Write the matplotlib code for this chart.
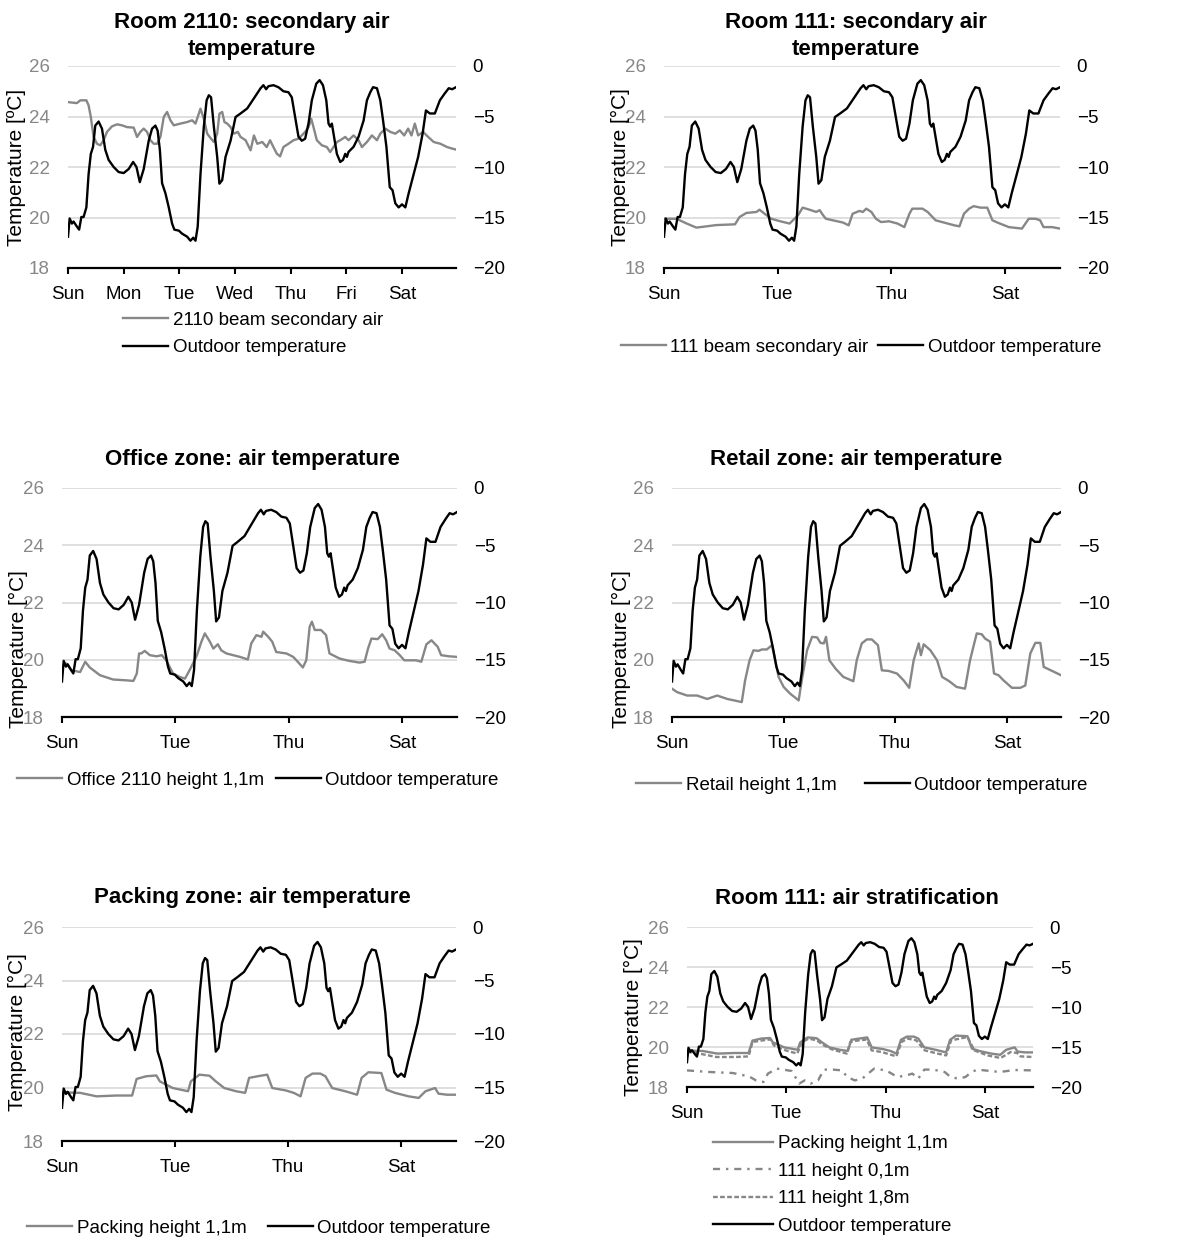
import numpy as np
import matplotlib.pyplot as plt

plt.rcParams['font.family'] = ['Liberation Sans', 'DejaVu Sans']

# figure size in pixels
W, H = 1179, 1242

# ------------------------------
# data (x in days from Sunday 00:00)
# ------------------------------

# outdoor temperature, right axis
out_day = [0, 0.03, 0.07, 0.1, 0.16, 0.2, 0.24, 0.28, 0.33, 0.37, 0.41, 0.45, 0.49, 0.55,
           0.61, 0.67, 0.73, 0.82, 0.91, 1.0, 1.09, 1.17, 1.23, 1.29, 1.36, 1.45, 1.51,
           1.57, 1.61, 1.65, 1.69, 1.75, 1.81, 1.87, 1.91, 1.99, 2.05, 2.14, 2.2, 2.25,
           2.29, 2.33, 2.38, 2.44, 2.49, 2.53, 2.57, 2.62, 2.68, 2.72, 2.77, 2.83, 2.92,
           3.01, 3.1, 3.22, 3.34, 3.46, 3.51, 3.56, 3.6, 3.69, 3.78, 3.87, 3.96, 4.02,
           4.08, 4.14, 4.2, 4.26, 4.32, 4.38, 4.46, 4.52, 4.58, 4.64, 4.68, 4.71, 4.74,
           4.77, 4.83, 4.89, 4.94, 4.98, 5.01, 5.04, 5.13, 5.22, 5.31, 5.37, 5.43, 5.48,
           5.55, 5.61, 5.66, 5.72, 5.78, 5.83, 5.88, 5.94, 6.0, 6.06, 6.12, 6.21, 6.29,
           6.37, 6.43, 6.5, 6.59, 6.68, 6.77, 6.84, 6.9, 6.97]
out_temp = [-16.9, -15.1, -15.6, -15.4, -15.9, -16.2, -14.95, -14.95, -14.0, -10.7, -8.7,
            -8.0, -5.9, -5.5, -6.2, -8.3, -9.3, -10.0, -10.5, -10.6, -10.2, -9.5, -10.0,
            -11.5, -10.2, -7.4, -6.2, -5.9, -6.4, -8.3, -11.6, -12.6, -14.0, -15.6, -16.2,
            -16.3, -16.6, -16.9, -17.3, -17.0, -17.3, -15.9, -10.7, -6.0, -3.4, -2.9, -3.1,
            -6.0, -9.0, -11.65, -11.3, -9.0, -7.4, -5.05, -4.7, -4.2, -3.2, -2.2, -1.9,
            -2.3, -2.0, -1.9, -2.1, -2.5, -2.6, -3.1, -5.05, -7.0, -7.4, -7.2, -5.7, -3.4,
            -1.75, -1.4, -1.9, -3.4, -5.7, -6.0, -5.7, -6.7, -8.7, -9.5, -9.3, -8.7, -9.0,
            -8.5, -8.0, -7.0, -5.4, -3.4, -2.6, -2.1, -2.2, -3.4, -5.4, -8.0, -12.0, -12.3,
            -13.6, -14.0, -13.7, -14.0, -12.6, -10.7, -9.0, -6.7, -4.4, -4.7, -4.7, -3.4,
            -2.7, -2.2, -2.3, -2.1]

# room 2110 beam secondary air
b2110_day = [0, 0.16, 0.22, 0.33, 0.37, 0.41, 0.46, 0.52, 0.58, 0.64, 0.70, 0.79, 0.88,
             0.97, 1.06, 1.18, 1.24, 1.30, 1.36, 1.42, 1.48, 1.54, 1.60, 1.66, 1.72, 1.78,
             1.84, 1.90, 2.02, 2.14, 2.23, 2.29, 2.38, 2.44, 2.50, 2.57, 2.62, 2.68, 2.72,
             2.77, 2.81, 2.86, 2.92, 2.98, 3.05, 3.10, 3.19, 3.28, 3.34, 3.40, 3.49, 3.57,
             3.63, 3.69, 3.75, 3.81, 3.87, 3.96, 4.05, 4.14, 4.20, 4.26, 4.32, 4.37, 4.41,
             4.47, 4.56, 4.65, 4.71, 4.77, 4.83, 4.89, 4.98, 5.04, 5.13, 5.22, 5.28, 5.37,
             5.46, 5.55, 5.61, 5.70, 5.79, 5.88, 5.96, 6.04, 6.11, 6.17, 6.23, 6.29, 6.38,
             6.47, 6.57, 6.69, 6.81, 6.90, 6.97]
b2110_temp = [24.57, 24.53, 24.64, 24.64, 24.44, 23.98, 23.19, 22.92, 22.86, 23.06, 23.39,
              23.61, 23.69, 23.65, 23.58, 23.56, 23.19, 23.39, 23.52, 23.39, 23.06, 22.92,
              22.92, 23.19, 23.98, 24.18, 23.85, 23.65, 23.72, 23.78, 23.85, 23.72, 24.31,
              23.91, 23.32, 23.12, 22.99, 23.32, 24.11, 24.18, 23.78, 23.72, 23.58, 23.32,
              23.39, 23.19, 23.06, 22.66, 23.25, 22.92, 22.99, 22.79, 23.06, 22.79, 22.53,
              22.42, 22.79, 22.92, 23.06, 23.12, 23.25, 23.39, 23.58, 23.91, 23.58, 23.06,
              22.86, 22.79, 22.59, 22.79, 22.99, 23.06, 23.19, 23.06, 23.25, 23.06, 22.79,
              22.99, 23.25, 23.06, 23.32, 23.52, 23.39, 23.32, 23.45, 23.25, 23.52, 23.25,
              23.72, 23.25, 23.39, 23.19, 22.99, 22.92, 22.79, 22.73, 22.69]

# room 111 beam secondary air
b111_day = [0, 0.22, 0.40, 0.57, 0.75, 0.92, 1.25, 1.33, 1.45, 1.63, 1.68, 1.77, 1.89,
            2.03, 2.21, 2.27, 2.36, 2.44, 2.56, 2.68, 2.74, 2.80, 2.85, 2.97, 3.15, 3.25,
            3.32, 3.44, 3.50, 3.56, 3.65, 3.73, 3.82, 3.96, 4.11, 4.23, 4.32, 4.37, 4.55,
            4.64, 4.78, 4.96, 5.11, 5.20, 5.28, 5.37, 5.45, 5.57, 5.69, 5.78, 5.89, 6.07,
            6.30, 6.42, 6.54, 6.62, 6.68, 6.83, 6.97]
b111_temp = [19.95, 19.95, 19.76, 19.6, 19.65, 19.7, 19.73, 20.02, 20.18, 20.22, 20.31,
             20.15, 19.95, 19.86, 19.76, 19.89, 20.09, 20.39, 20.31, 20.22, 20.29, 20.09,
             19.95, 19.89, 19.8, 19.69, 20.15, 20.26, 20.22, 20.35, 20.22, 19.95, 19.82,
             19.85, 19.76, 19.62, 20.15, 20.35, 20.35, 20.22, 19.89, 19.78, 19.69, 19.65,
             20.15, 20.35, 20.45, 20.39, 20.39, 19.89, 19.78, 19.62, 19.56, 19.95, 19.95,
             19.89, 19.62, 19.62, 19.56]

# office 2110 height 1,1m
office_day = [0, 0.08, 0.17, 0.32, 0.41, 0.49, 0.67, 0.90, 1.14, 1.26, 1.32, 1.36, 1.40,
              1.46, 1.55, 1.67, 1.76, 1.84, 1.96, 2.08, 2.17, 2.25, 2.37, 2.46, 2.52, 2.61,
              2.67, 2.75, 2.81, 2.90, 3.02, 3.14, 3.28, 3.34, 3.43, 3.52, 3.55, 3.64, 3.71,
              3.78, 3.96, 4.08, 4.16, 4.25, 4.31, 4.37, 4.41, 4.46, 4.57, 4.66, 4.72, 4.90,
              5.07, 5.25, 5.34, 5.40, 5.46, 5.57, 5.65, 5.72, 5.78, 5.87, 5.96, 6.04, 6.25,
              6.34, 6.43, 6.52, 6.63, 6.69, 6.83, 6.97]
office_temp = [19.75, 19.87, 19.63, 19.57, 19.93, 19.73, 19.46, 19.31, 19.28, 19.26, 19.52,
               20.22, 20.22, 20.31, 20.16, 20.12, 20.16, 19.98, 19.52, 19.40, 19.34, 19.63,
               20.1, 20.63, 20.92, 20.63, 20.39, 20.54, 20.33, 20.22, 20.16, 20.1, 20.01,
               20.57, 20.86, 20.8, 20.98, 20.8, 20.63, 20.27, 20.22, 20.1, 19.93, 19.73,
               19.98, 21.15, 21.33, 21.04, 21.04, 20.86, 20.22, 20.04, 19.96, 19.9, 19.93,
               20.39, 20.74, 20.72, 20.89, 20.68, 20.39, 20.33, 20.16, 19.98, 19.98, 19.93,
               20.54, 20.68, 20.45, 20.16, 20.12, 20.1]

# retail height 1,1m
retail_day = [0, 0.09, 0.27, 0.45, 0.63, 0.81, 0.99, 1.16, 1.25, 1.31, 1.39, 1.46, 1.55,
              1.61, 1.70, 1.79, 1.85, 1.91, 2.0, 2.12, 2.27, 2.33, 2.42, 2.51, 2.60, 2.66,
              2.72, 2.76, 2.82, 2.93, 3.07, 3.25, 3.31, 3.40, 3.49, 3.58, 3.69, 3.76, 3.88,
              4.03, 4.15, 4.25, 4.33, 4.42, 4.46, 4.51, 4.63, 4.75, 4.84, 4.96, 5.10, 5.25,
              5.34, 5.46, 5.55, 5.61, 5.70, 5.77, 5.85, 5.94, 6.09, 6.24, 6.33, 6.42, 6.51,
              6.60, 6.66, 6.81, 6.97]
retail_temp = [18.99, 18.87, 18.75, 18.75, 18.63, 18.75, 18.63, 18.56, 18.52, 19.28, 19.98,
               20.33, 20.31, 20.36, 20.36, 20.51, 19.98, 19.40, 19.05, 18.81, 18.58, 19.34,
               20.33, 20.80, 20.78, 20.59, 20.57, 20.80, 19.98, 19.69, 19.40, 19.25, 19.98,
               20.57, 20.71, 20.71, 20.51, 19.63, 19.61, 19.52, 19.28, 19.02, 19.98, 20.57,
               20.16, 20.54, 20.33, 19.98, 19.40, 19.26, 19.05, 18.99, 19.98, 20.92, 20.89,
               20.74, 20.63, 19.52, 19.46, 19.28, 19.02, 19.02, 19.1, 20.22, 20.59, 20.59,
               19.75, 19.61, 19.46]

# packing height 1,1m
packing_day = [0, 0.32, 0.61, 0.96, 1.24, 1.32, 1.49, 1.67, 1.73, 1.96, 2.23, 2.28, 2.43,
               2.61, 2.72, 2.87, 3.08, 3.24, 3.31, 3.46, 3.63, 3.72, 3.96, 4.10, 4.22, 4.31,
               4.43, 4.57, 4.66, 4.78, 5.01, 5.22, 5.30, 5.42, 5.65, 5.74, 5.89, 6.13, 6.31,
               6.43, 6.60, 6.66, 6.81, 6.97]
packing_temp = [19.82, 19.80, 19.67, 19.7, 19.7, 20.32, 20.42, 20.45, 20.23, 19.98, 19.86,
                20.23, 20.48, 20.44, 20.23, 19.98, 19.86, 19.80, 20.36, 20.42, 20.48, 19.98,
                19.89, 19.80, 19.67, 20.36, 20.52, 20.52, 20.42, 19.98, 19.86, 19.73, 20.36,
                20.57, 20.54, 19.92, 19.80, 19.67, 19.61, 19.86, 19.98, 19.77, 19.73, 19.73]

# room 111 height 1,8m
h18_day = [0, 0.25, 0.59, 0.99, 1.24, 1.32, 1.52, 1.69, 1.75, 1.99, 2.22, 2.32, 2.45, 2.62,
           2.72, 2.92, 3.22, 3.29, 3.45, 3.62, 3.72, 3.92, 4.22, 4.32, 4.45, 4.62, 4.79,
           5.05, 5.22, 5.32, 5.65, 5.79, 6.05, 6.32, 6.52, 6.65, 6.72, 6.97]
h18_temp = [19.75, 19.67, 19.5, 19.5, 19.53, 20.25, 20.33, 20.38, 20.08, 19.83, 19.67,
            20.25, 20.42, 20.33, 20.13, 19.88, 19.67, 20.25, 20.33, 20.37, 19.83, 19.75,
            19.53, 20.25, 20.42, 20.33, 19.83, 19.67, 19.58, 20.33, 20.5, 19.83, 19.58,
            19.45, 19.75, 19.7, 19.53, 19.5]

# room 111 height 0,1m
h01_day = [0, 0.45, 0.92, 1.25, 1.39, 1.54, 1.63, 1.81, 2.11, 2.26, 2.37, 2.49, 2.64, 2.76,
           2.94, 3.12, 3.23, 3.38, 3.53, 3.65, 3.77, 4.01, 4.24, 4.42, 4.54, 4.66, 4.78,
           4.96, 5.19, 5.31, 5.46, 5.61, 5.73, 5.85, 6.11, 6.3, 6.6, 6.97]
h01_temp = [18.83, 18.75, 18.7, 18.53, 18.33, 18.25, 18.67, 18.92, 18.8, 18.17, 18.33,
            18.17, 18.33, 18.87, 18.87, 18.83, 18.5, 18.33, 18.42, 18.67, 18.92, 18.83,
            18.5, 18.58, 18.67, 18.42, 18.87, 18.87, 18.75, 18.5, 18.42, 18.5, 18.75,
            18.87, 18.8, 18.75, 18.85, 18.83]

days7 = ['Sun', 'Mon', 'Tue', 'Wed', 'Thu', 'Fri', 'Sat']
days4 = ['Sun', 'Tue', 'Thu', 'Sat']

GRAY = '#878787'
GRID = '#d9d9d9'
FS = 13.5
LW = 1.7


def fx(px):
    return px / W


def fy(py):
    return 1 - py / H


def make_panel(l, t, r, b, ticks, labels):
    ax = fig.add_axes([l / W, 1 - b / H, (r - l) / W, (b - t) / H])
    ax2 = ax.twinx()
    ax.set_xlim(0, 6.97)
    ax.set_ylim(18, 26)
    ax.set_yticks([18, 20, 22, 24, 26])
    ax2.set_ylim(-20, 0)
    ax2.set_yticks([-20, -15, -10, -5, 0])
    ax.set_xticks(ticks)
    ax.set_xticklabels(labels)
    ax.grid(axis='y', color=GRID, lw=1.2)
    ax.set_axisbelow(True)
    for a in (ax, ax2):
        for s in a.spines.values():
            s.set_visible(False)
    ax.spines['bottom'].set_visible(True)
    ax.spines['bottom'].set_linewidth(1.6)
    ax.tick_params(axis='y', length=0, labelcolor=GRAY, labelsize=FS, pad=13)
    ax2.tick_params(axis='y', length=0, labelcolor='black', labelsize=FS, pad=12)
    ax.tick_params(axis='x', length=4, width=1.5, direction='out', labelsize=FS, pad=9)
    return ax, ax2


fig = plt.figure(figsize=(W / 100, H / 100), dpi=100)

# --- panel 1 ---
ax, ax2 = make_panel(68, 66, 456, 268, range(7), days7)
l1, = ax.plot(b2110_day, b2110_temp, color=GRAY, lw=LW)
l2, = ax2.plot(out_day, out_temp, color='black', lw=LW)
fig.legend([l1, l2], ['2110 beam secondary air', 'Outdoor temperature'], loc='center',
           bbox_to_anchor=(fx(253), fy(334)), frameon=False, fontsize=FS, handlelength=2.4,
           handletextpad=0.25, labelspacing=0.55, borderpad=0)
fig.text(fx(252), fy(36), 'Room 2110: secondary air\ntemperature', ha='center', va='center',
         fontsize=16, fontweight='bold', linespacing=1.35)
fig.text(fx(17), fy(167), 'Temperature [ºC]', rotation=90, ha='center', va='center', fontsize=15)

# --- panel 2 ---
ax, ax2 = make_panel(664, 66, 1060, 268, [0, 2, 4, 6], days4)
l1, = ax.plot(b111_day, b111_temp, color=GRAY, lw=LW)
l2, = ax2.plot(out_day, out_temp, color='black', lw=LW)
fig.legend([l1, l2], ['111 beam secondary air', 'Outdoor temperature'], loc='center',
           bbox_to_anchor=(fx(861), fy(347)), frameon=False, fontsize=FS, handlelength=2.4,
           handletextpad=0.25, columnspacing=0.5, ncol=2, borderpad=0)
fig.text(fx(856), fy(36), 'Room 111: secondary air\ntemperature', ha='center', va='center',
         fontsize=16, fontweight='bold', linespacing=1.35)
fig.text(fx(620), fy(167), 'Temperature [°C]', rotation=90, ha='center', va='center', fontsize=15)

# --- panel 3 ---
ax, ax2 = make_panel(62, 488, 457, 717, [0, 2, 4, 6], days4)
l1, = ax.plot(office_day, office_temp, color=GRAY, lw=LW)
l2, = ax2.plot(out_day, out_temp, color='black', lw=LW)
fig.legend([l1, l2], ['Office 2110 height 1,1m', 'Outdoor temperature'], loc='center',
           bbox_to_anchor=(fx(258), fy(780)), frameon=False, fontsize=FS, handlelength=2.4,
           handletextpad=0.25, columnspacing=0.6, ncol=2, borderpad=0)
fig.text(fx(252), fy(460), 'Office zone: air temperature', ha='center', va='center',
         fontsize=16, fontweight='bold')
fig.text(fx(18), fy(649), 'Temperature [°C]', rotation=90, ha='center', va='center', fontsize=15)

# --- panel 4 ---
ax, ax2 = make_panel(672, 488, 1061, 717, [0, 2, 4, 6], days4)
l1, = ax.plot(retail_day, retail_temp, color=GRAY, lw=LW)
l2, = ax2.plot(out_day, out_temp, color='black', lw=LW)
fig.legend([l1, l2], ['Retail height 1,1m', 'Outdoor temperature'], loc='center',
           bbox_to_anchor=(fx(862), fy(785)), frameon=False, fontsize=FS, handlelength=2.4,
           handletextpad=0.25, columnspacing=1.5, ncol=2, borderpad=0)
fig.text(fx(856), fy(460), 'Retail zone: air temperature', ha='center', va='center',
         fontsize=16, fontweight='bold')
fig.text(fx(621), fy(649), 'Temperature [°C]', rotation=90, ha='center', va='center', fontsize=15)

# --- panel 5 ---
ax, ax2 = make_panel(62, 927, 456, 1141, [0, 2, 4, 6], days4)
l1, = ax.plot(packing_day, packing_temp, color=GRAY, lw=LW)
l2, = ax2.plot(out_day, out_temp, color='black', lw=LW)
fig.legend([l1, l2], ['Packing height 1,1m', 'Outdoor temperature'], loc='center',
           bbox_to_anchor=(fx(259), fy(1228)), frameon=False, fontsize=FS, handlelength=2.4,
           handletextpad=0.25, columnspacing=1.1, ncol=2, borderpad=0)
fig.text(fx(252), fy(898), 'Packing zone: air temperature', ha='center', va='center',
         fontsize=16, fontweight='bold')
fig.text(fx(17), fy(1032), 'Temperature [°C]', rotation=90, ha='center', va='center', fontsize=15)

# --- panel 6 ---
ax, ax2 = make_panel(687, 927, 1033, 1087, [0, 2, 4, 6], days4)
l1, = ax.plot(packing_day, packing_temp, color=GRAY, lw=LW)
l2, = ax.plot(h01_day, h01_temp, color=GRAY, lw=LW, dashes=(3, 2.5, 1, 2.5))
l3, = ax.plot(h18_day, h18_temp, color=GRAY, lw=LW, dashes=(2, 1))
l4, = ax2.plot(out_day, out_temp, color='black', lw=LW)
fig.legend([l1, l2, l3, l4],
           ['Packing height 1,1m', '111 height 0,1m', '111 height 1,8m', 'Outdoor temperature'],
           loc='center', bbox_to_anchor=(fx(832), fy(1185)), frameon=False, fontsize=FS,
           handlelength=3.2, handletextpad=0.25, labelspacing=0.55, borderpad=0)
fig.text(fx(857), fy(898), 'Room 111: air stratification', ha='center', va='center',
         fontsize=16, fontweight='bold')
fig.text(fx(633), fy(1017), 'Temperature [°C]', rotation=90, ha='center', va='center', fontsize=15)

fig.savefig('out.png', dpi=100)
